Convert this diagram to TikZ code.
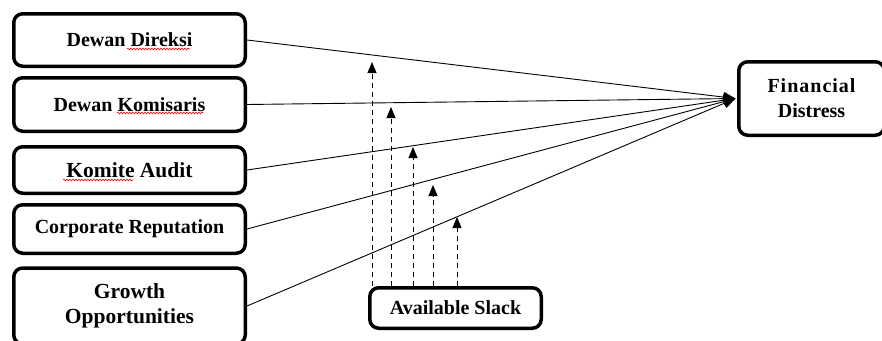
\documentclass[tikz,border=0pt]{standalone}
\usepackage{fontspec}
\setmainfont{Liberation Serif}
\usetikzlibrary{arrows.meta,decorations.pathmorphing}
\begin{document}
\begin{tikzpicture}[x=1pt,y=-1pt,
  box/.style={draw, line width=3.5pt, rounded corners=9pt, fill=white,
    inner sep=0pt, align=center, font=\bfseries\fontsize{20}{25}\selectfont},
  bigtext/.style={font=\bfseries\fontsize{21.5}{25}\selectfont},
  link/.style={line width=0.9pt, -{Triangle[length=12pt,width=10pt]}},
  slackarrow/.style={line width=1pt, dash pattern=on 5pt off 4pt,
    -{Triangle[length=11pt,width=9pt]}},
  spellmark/.style={red, line width=0.6pt,
    decorate, decoration={snake, segment length=3pt, amplitude=0.9pt}}]
\useasboundingbox (0,0) rectangle (882,340);

% independent variables
\node[box, minimum width=231.5pt, minimum height=52.5pt] (dir) at (129.5,40)
  {Dewan Direksi};
\node[box, minimum width=231.5pt, minimum height=53.5pt] (kom) at (129.5,104.5)
  {Dewan Komisaris};
\node[box, bigtext, minimum width=231.5pt, minimum height=46.5pt] (aud) at (129.5,170)
  {Komite Audit};
\node[box, minimum width=231.5pt, minimum height=48.5pt] (rep) at (129.5,229)
  {Corporate Reputation};
\node[box, bigtext, minimum width=231.5pt, minimum height=76pt] (gro) at (129.5,306)
  {Growth\\Opportunities};

% spell-checker underlines
\draw[spellmark] (127,49) -- (190,49);
\draw[spellmark] (117,113) -- (203,113);
\draw[spellmark] (63,180) -- (133,180);

% dependent variable
\node[box, minimum width=145.5pt, minimum height=73.5pt] (fd) at (811.5,98.5)
  {{\addfontfeature{LetterSpace=5}Financial}\\Distress};

% moderating variable
\node[box, minimum width=171.5pt, minimum height=40.5pt] (slack) at (455.5,308)
  {Available Slack};

% direct effects
\coordinate (hub) at ([xshift=-1.5pt]fd.west);
\foreach \src in {dir,kom,aud,rep,gro}
  \draw[link] (\src.east) -- (hub);

% moderation arrows
\coordinate (m1) at (372,62);
\coordinate (m2) at (391,107);
\coordinate (m3) at (413,147);
\coordinate (m4) at (433,185);
\coordinate (m5) at (457,217);
\foreach \m in {m1,m2,m3,m4,m5}
  \draw[slackarrow] (\m |- slack.north) -- (\m);
\end{tikzpicture}
\end{document}
